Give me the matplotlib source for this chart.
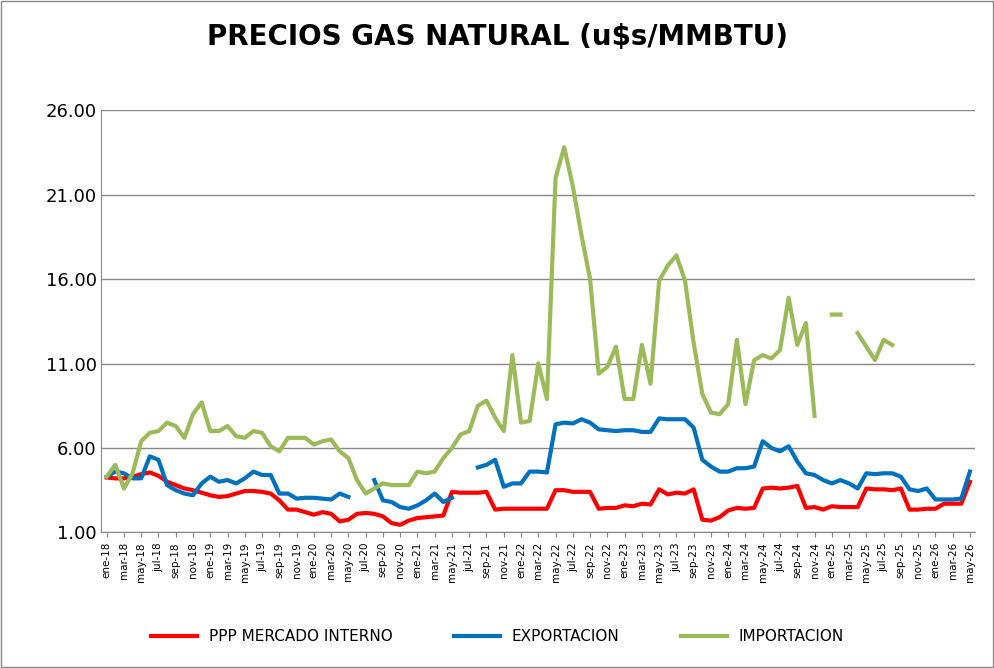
import numpy as np
import matplotlib.pyplot as plt
from matplotlib.patches import Rectangle

nan = np.nan
meses = ['ene', 'feb', 'mar', 'abr', 'may', 'jun', 'jul', 'ago', 'sep', 'oct', 'nov', 'dic']
labels = [f'{m}-{y}' for y in range(18, 27) for m in meses][:101]

mercado_interno = [4.25, 4.2, 4.2, 4.3, 4.45, 4.55, 4.35, 4.0, 3.8, 3.6, 3.5, 3.35,
                   3.2, 3.1, 3.15, 3.3, 3.45, 3.45, 3.4, 3.3, 2.9, 2.35, 2.35, 2.2,
                   2.05, 2.2, 2.1, 1.65, 1.75, 2.1, 2.15, 2.1, 1.95, 1.55, 1.45, 1.7,
                   1.85, 1.9, 1.95, 2.0, 3.4, 3.35, 3.35, 3.35, 3.4, 2.35, 2.4, 2.4,
                   2.4, 2.4, 2.4, 2.4, 3.5, 3.5, 3.4, 3.4, 3.4, 2.4, 2.45, 2.45,
                   2.6, 2.55, 2.7, 2.65, 3.55, 3.25, 3.35, 3.3, 3.55, 1.75, 1.7, 1.9,
                   2.3, 2.45, 2.4, 2.45, 3.6, 3.65, 3.6, 3.65, 3.75, 2.45, 2.5, 2.35,
                   2.55, 2.5, 2.5, 2.5, 3.6, 3.55, 3.55, 3.5, 3.6, 2.35, 2.35, 2.4,
                   2.4, 2.7, 2.7, 2.7, 4.0]

exportacion = [4.3, 4.6, 4.5, 4.2, 4.2, 5.5, 5.3, 3.8, 3.5, 3.3, 3.2, 3.9,
               4.3, 4.0, 4.1, 3.9, 4.2, 4.6, 4.4, 4.4, 3.3, 3.3, 3.0, 3.05,
               3.05, 3.0, 2.95, 3.3, 3.1, nan, nan, 4.1, 2.9, 2.8, 2.5, 2.4,
               2.6, 2.9, 3.3, 2.8, 3.05, nan, nan, 4.85, 5.0, 5.3, 3.7, 3.9,
               3.9, 4.6, 4.6, 4.55, 7.4, 7.5, 7.45, 7.7, 7.5, 7.1, 7.05, 7.0,
               7.05, 7.05, 6.95, 6.95, 7.75, 7.7, 7.7, 7.7, 7.2, 5.3, 4.9, 4.6,
               4.6, 4.8, 4.8, 4.9, 6.4, 6.0, 5.8, 6.1, 5.2, 4.5, 4.4, 4.1,
               3.9, 4.1, 3.9, 3.6, 4.5, 4.45, 4.5, 4.5, 4.3, 3.55, 3.45, 3.6,
               2.95, 2.95, 2.95, 3.0, 4.6]

importacion = [4.3, 5.0, 3.6, 4.5, 6.4, 6.9, 7.0, 7.5, 7.3, 6.6, 8.0, 8.7,
               7.0, 7.0, 7.3, 6.7, 6.6, 7.0, 6.9, 6.1, 5.8, 6.6, 6.6, 6.6,
               6.2, 6.4, 6.5, 5.8, 5.4, 4.1, 3.3, 3.6, 3.9, 3.8, 3.8, 3.8,
               4.6, 4.5, 4.6, 5.4, 6.0, 6.8, 7.0, 8.5, 8.8, 7.8, 7.0, 11.5,
               7.5, 7.6, 11.0, 8.9, 22.0, 23.8, 21.5, 18.6, 16.0, 10.4, 10.8, 12.0,
               8.9, 8.9, 12.1, 9.8, 15.9, 16.8, 17.4, 15.9, 12.2, 9.2, 8.1, 8.0,
               8.6, 12.4, 8.6, 11.2, 11.5, 11.3, 11.8, 14.9, 12.1, 13.4, 7.9, nan,
               13.9, 13.9, nan, 12.8, 12.0, 11.2, 12.4, 12.1, nan, nan, nan, nan,
               nan, nan, nan, nan, nan]

x = np.arange(len(labels))

fig = plt.figure(figsize=(9.95, 6.68), dpi=100)
fig.patches.append(Rectangle((0.001, 0.001), 0.997, 0.997, transform=fig.transFigure,
                             fill=False, edgecolor='#888888', linewidth=1))
ax = fig.add_axes([0.102, 0.203, 0.878, 0.632])

ax.plot(x, mercado_interno, color='#ff0000', lw=3, label='PPP MERCADO INTERNO')
ax.plot(x, exportacion, color='#0070c0', lw=3, label='EXPORTACION')
ax.plot(x, importacion, color='#9bbb59', lw=3, label='IMPORTACION')

ax.set_ylim(1, 26)
ax.set_yticks(np.arange(1, 27, 5))
ax.set_yticklabels([f'{v:.2f}' for v in np.arange(1, 27, 5)], fontsize=13)
ax.set_xlim(-0.6, len(labels) - 0.4)
ax.set_xticks(x[::2])
ax.set_xticklabels(labels[::2], rotation=90, fontsize=7.5)
ax.grid(axis='y', color='#888888', lw=1)
ax.set_axisbelow(True)
for s in ['top', 'right']:
    ax.spines[s].set_visible(False)
for s in ['left', 'bottom']:
    ax.spines[s].set_color('#888888')
ax.tick_params(axis='y', length=0)
ax.tick_params(axis='x', color='#888888')

fig.suptitle('PRECIOS GAS NATURAL (u$s/MMBTU)', fontsize=20, fontweight='bold', y=0.965)
fig.legend(loc='lower center', ncol=3, frameon=False, fontsize=11,
           bbox_to_anchor=(0.5, 0.015), columnspacing=4, handlelength=3)

fig.savefig('out.png', dpi=100)
